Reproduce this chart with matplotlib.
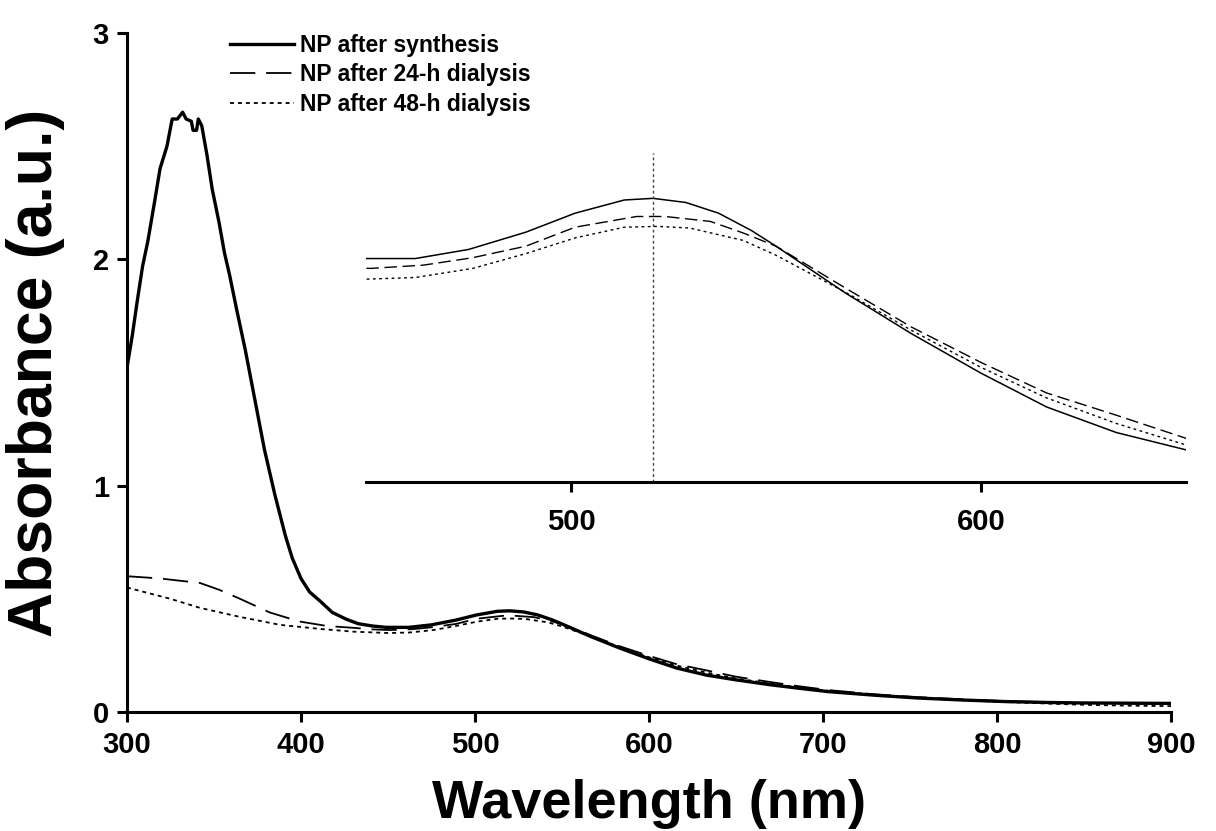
import numpy as np
import matplotlib.pyplot as plt

plt.rcParams['font.family'] = ['Liberation Sans', 'DejaVu Sans']
plt.rcParams['font.weight'] = 'bold'

# spectra (wavelength in nm, absorbance in a.u.)
wl_synth = [300, 303, 306, 309, 312, 316, 319, 323, 326, 329, 332, 334, 337, 338, 340,
            341, 343, 346, 349, 353, 356, 359, 363, 368, 373, 379, 385, 391, 395, 400,
            405, 411, 418, 426, 433, 441, 449, 462, 475, 489, 501, 513, 520, 528, 536,
            544, 550, 567, 583, 600, 616, 633, 650, 670, 685, 703, 730, 754, 780, 805,
            830, 849, 875, 900]
abs_synth = [1.52, 1.66, 1.82, 1.97, 2.08, 2.26, 2.40, 2.50, 2.62, 2.62, 2.65, 2.62, 2.61, 2.57, 2.57,
             2.62, 2.59, 2.46, 2.31, 2.16, 2.03, 1.93, 1.78, 1.60, 1.40, 1.16, 0.96, 0.78, 0.68, 0.59,
             0.53, 0.49, 0.44, 0.41, 0.39, 0.38, 0.374, 0.374, 0.385, 0.406, 0.429, 0.445, 0.447, 0.442, 0.429,
             0.408, 0.389, 0.332, 0.283, 0.235, 0.194, 0.163, 0.142, 0.12, 0.106, 0.09, 0.074, 0.062, 0.053, 0.046,
             0.042, 0.04, 0.039, 0.038]

wl_24h = [300, 319, 342, 353, 365, 382, 399, 415, 430, 441, 451, 464, 476, 489, 501,
          516, 523, 534, 542, 550, 567, 583, 600, 616, 633, 650, 670, 685, 703, 730,
          754, 780, 805, 830, 849, 875, 900]
abs_24h = [0.60, 0.59, 0.57, 0.54, 0.50, 0.44, 0.40, 0.38, 0.372, 0.365, 0.362, 0.366, 0.375, 0.389, 0.412,
           0.425, 0.425, 0.419, 0.405, 0.389, 0.338, 0.291, 0.248, 0.211, 0.184, 0.156, 0.132, 0.115, 0.097, 0.078,
           0.066, 0.056, 0.048, 0.043, 0.04, 0.038, 0.036]

wl_48h = [300, 310, 325, 342, 365, 388, 411, 430, 450, 462, 476, 489, 501, 513, 521,
          529, 542, 550, 567, 583, 600, 616, 633, 650, 670, 685, 703, 730, 754, 780,
          805, 830, 849, 875, 900]
abs_48h = [0.55, 0.53, 0.50, 0.46, 0.42, 0.385, 0.367, 0.355, 0.349, 0.351, 0.362, 0.380, 0.399, 0.412, 0.413,
           0.411, 0.396, 0.378, 0.333, 0.287, 0.242, 0.205, 0.174, 0.148, 0.126, 0.11, 0.094, 0.076, 0.063, 0.052,
           0.044, 0.037, 0.032, 0.028, 0.026]

labels = ["NP after synthesis", "NP after 24-h dialysis", "NP after 48-h dialysis"]
x_ticks = [300, 400, 500, 600, 700, 800, 900]
y_ticks = [0, 1, 2, 3]
inset_ticks = [500, 600]
peak_nm = 520

fig = plt.figure(figsize=(12.16, 8.31), dpi=100)
ax = fig.add_axes([0.1044, 0.1432, 0.8586, 0.8171])

ax.plot(wl_synth, abs_synth, color='black', lw=2.4, ls='-', label=labels[0])
ax.plot(wl_24h, abs_24h, color='black', lw=1.3, ls=(0, (14, 6)), label=labels[1])
ax.plot(wl_48h, abs_48h, color='black', lw=1.3, ls=(0, (2.2, 2.2)), label=labels[2])

ax.set_xlim(300, 900)
ax.set_ylim(0, 3)
ax.set_xticks(x_ticks)
ax.set_yticks(y_ticks)
for s in ['top', 'right']:
    ax.spines[s].set_visible(False)
for s in ['left', 'bottom']:
    ax.spines[s].set_linewidth(2.2)
ax.tick_params(direction='out', length=7, width=2.2, labelsize=21)
ax.tick_params(axis='x', pad=7)
ax.tick_params(axis='y', pad=6)
ax.set_xlabel("Wavelength (nm)", fontsize=39, fontweight='bold', labelpad=14)
ax.set_ylabel("Absorbance (a.u.)", fontsize=45, fontweight='bold', labelpad=20)

leg = ax.legend(loc='upper left', bbox_to_anchor=(230 / 1216, 1 - 34 / 831),
                bbox_transform=fig.transFigure, frameon=False, fontsize=16.5,
                handlelength=2.8, handletextpad=0.25, labelspacing=0.28,
                borderpad=0, borderaxespad=0)

# inset: zoom on the plasmon band
axin = fig.add_axes([366 / 1216, 1 - 482 / 831, 820 / 1216, 329 / 831])
axin.patch.set_alpha(0)
axin.plot(wl_synth, abs_synth, color='black', lw=1.1, ls='-')
axin.plot(wl_24h, abs_24h, color='black', lw=1.0, ls=(0, (9, 4)))
axin.plot(wl_48h, abs_48h, color='black', lw=1.0, ls=(0, (2, 2.5)))
axin.axvline(peak_nm, color='#444444', lw=1.0, ls=(0, (2, 2)))
axin.set_xlim(450, 650)
axin.set_ylim(0.103, 0.502)
axin.set_xticks(inset_ticks)
axin.set_yticks([])
for s in ['top', 'right', 'left']:
    axin.spines[s].set_visible(False)
axin.spines['bottom'].set_linewidth(2.2)
axin.tick_params(axis='x', direction='out', length=7, width=2.2, labelsize=21, pad=12)

fig.savefig("out.png", dpi=100)
